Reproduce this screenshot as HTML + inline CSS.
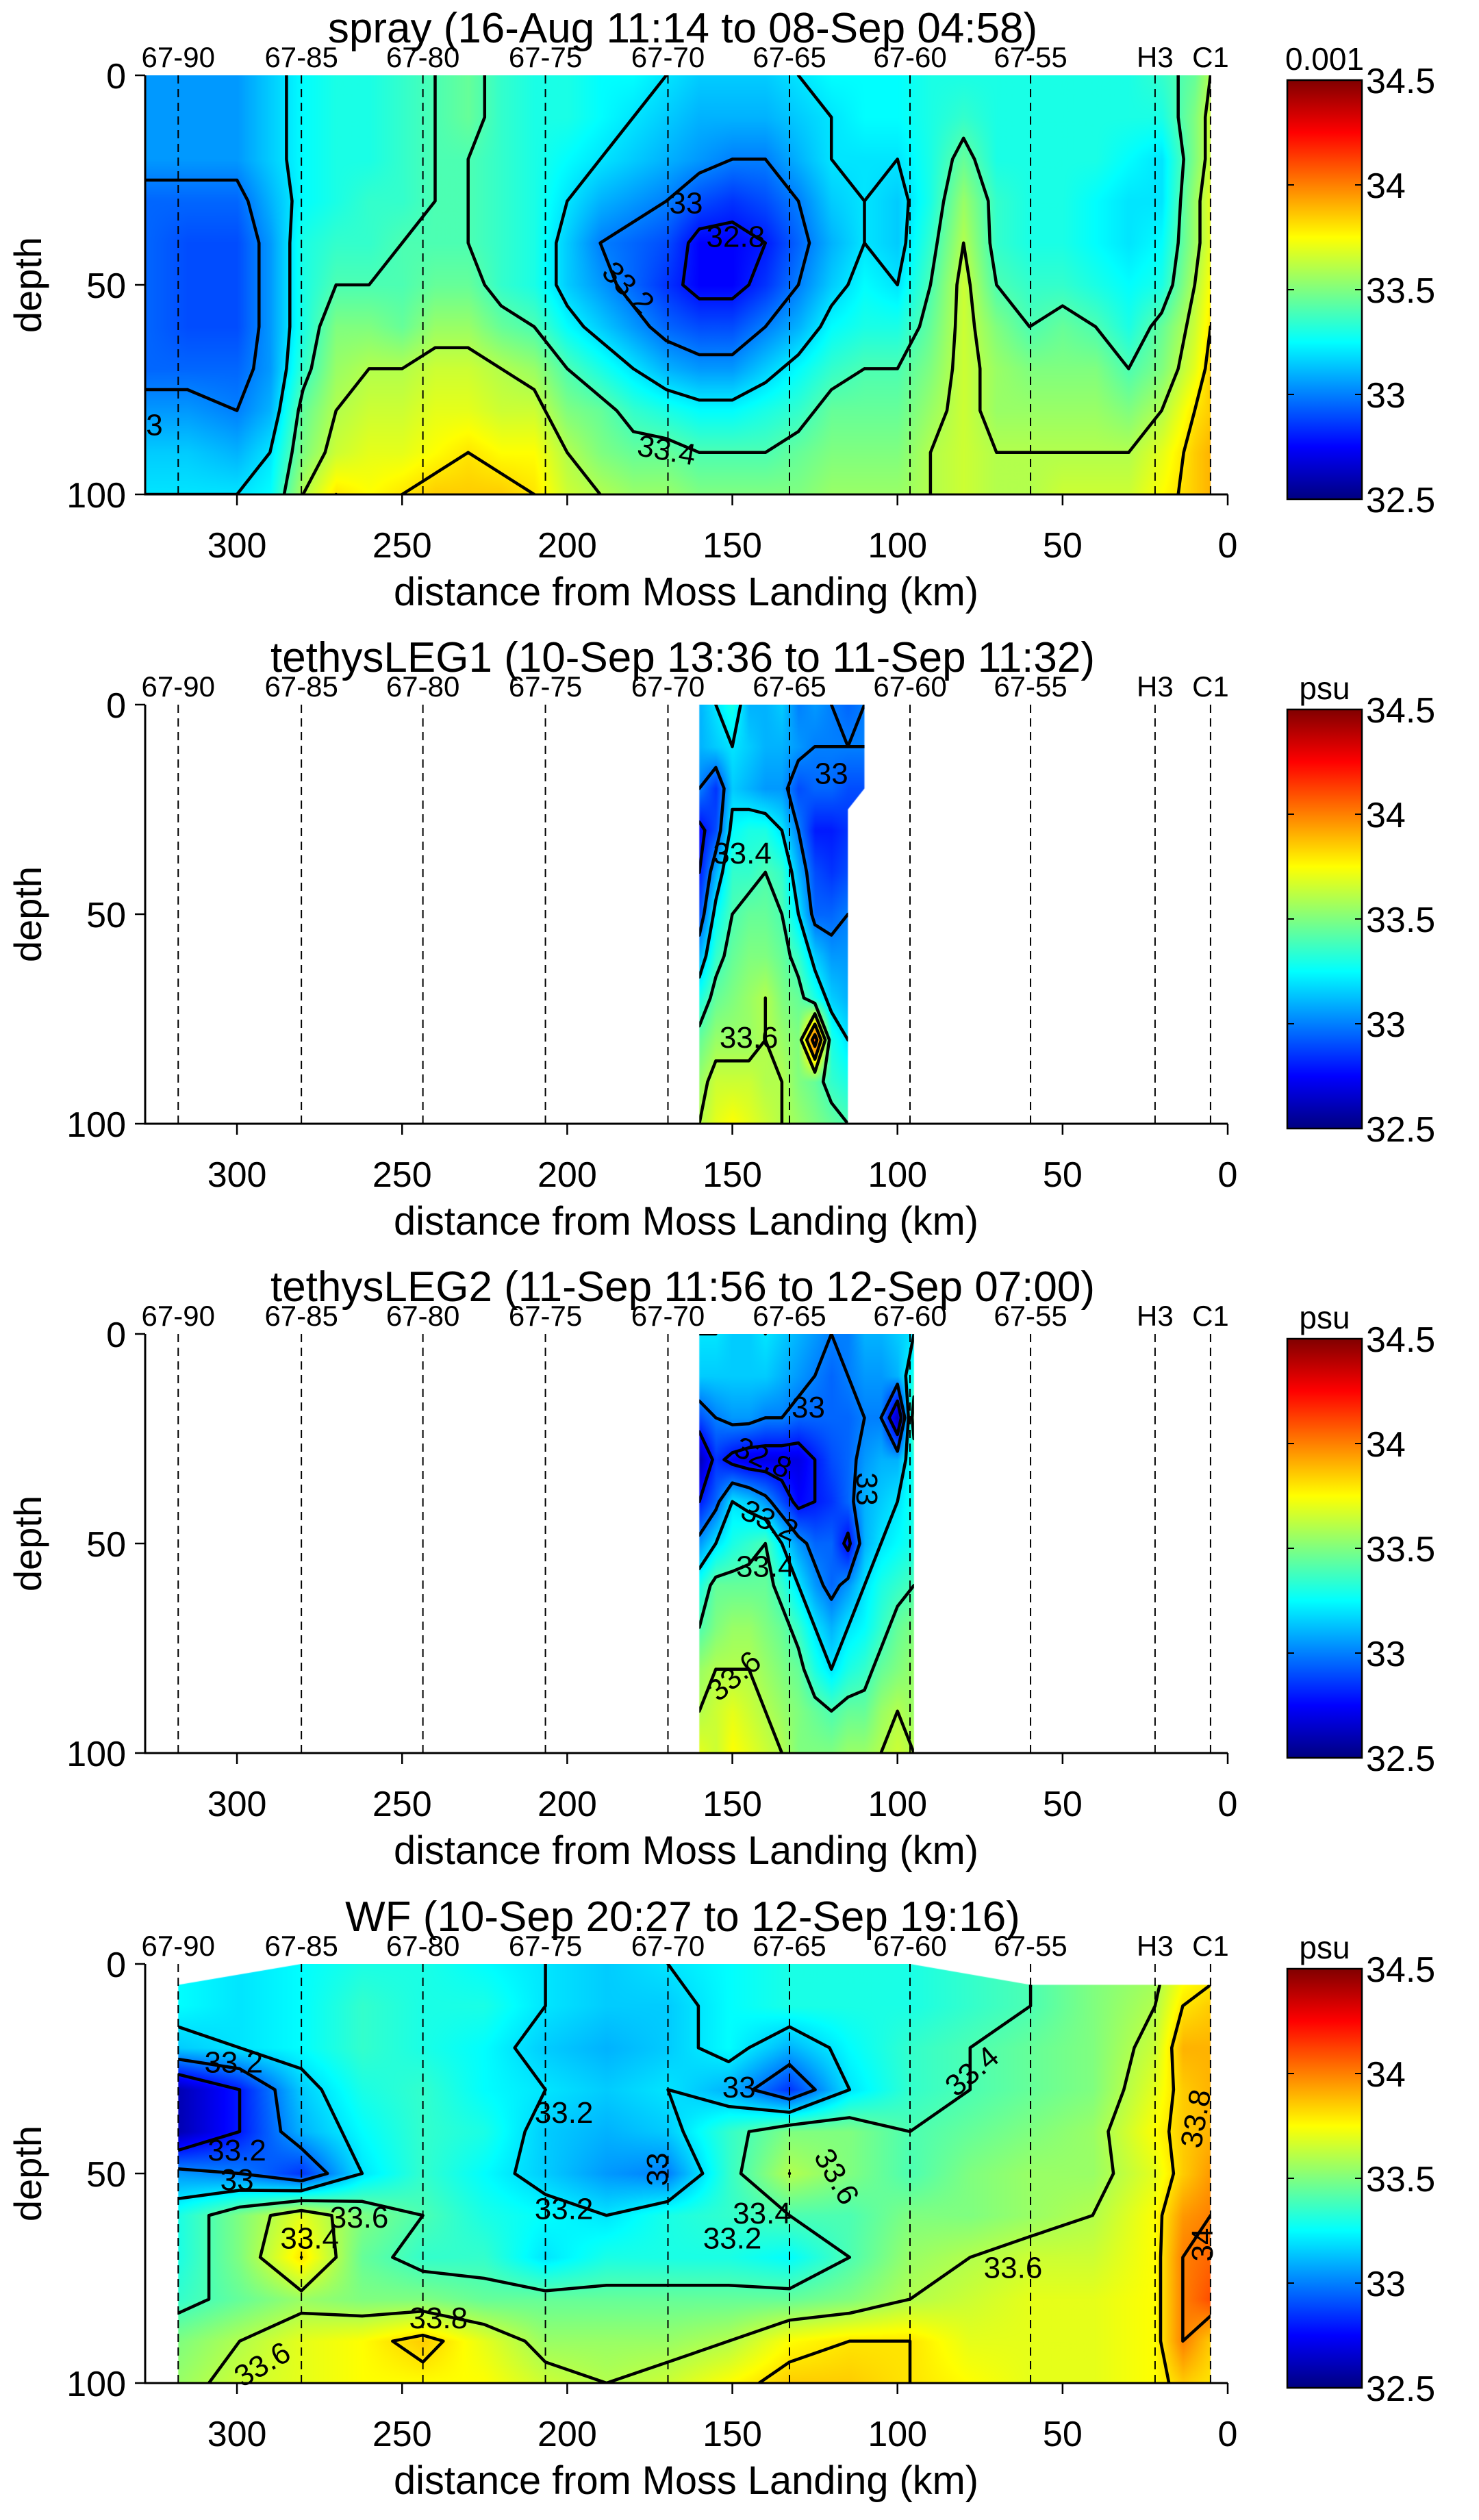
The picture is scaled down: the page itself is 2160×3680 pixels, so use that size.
<!DOCTYPE html>
<html><head><meta charset="utf-8"><style>
html,body{margin:0;padding:0;background:#fff;}
body{width:2160px;height:3680px;position:relative;overflow:hidden;font-family:"Liberation Sans",Arial,sans-serif;}
canvas{position:absolute;z-index:0;}
#chart{position:absolute;left:0;top:0;z-index:1;}
</style></head>
<body>
<svg id="chart" width="2160" height="3680" viewBox="0 0 2160 3680" xmlns="http://www.w3.org/2000/svg">
<defs>
<linearGradient id="jet" x1="0" y1="1" x2="0" y2="0">
<stop offset="0" stop-color="#000080"/><stop offset="0.125" stop-color="#0000ff"/><stop offset="0.375" stop-color="#00ffff"/><stop offset="0.625" stop-color="#ffff00"/><stop offset="0.875" stop-color="#ff0000"/><stop offset="1" stop-color="#800000"/>
</linearGradient>
</defs>
</svg>
<script>
const STATION_NAMES=['67-90','67-85','67-80','67-75','67-70','67-65','67-60','67-55','H3','C1'];
const STATION_KM=[317.8,280.5,243.7,206.6,169.5,132.7,96.2,59.7,22.0,5.2];
const X_TICKS=[300,250,200,150,100,50,0];
const Y_TICKS=[0,50,100];
const CB_TICKS=[34.5,34,33.5,33,32.5];
const DEPTHS=[0,10,20,30,40,50,60,70,80,90,100];
const LEVELS=[32.6,32.8,33.0,33.2,33.4,33.6,33.8,34.0,34.2,34.4];
const TITLES=['spray (16-Aug 11:14 to 08-Sep 04:58)','tethysLEG1 (10-Sep 13:36 to 11-Sep 11:32)','tethysLEG2 (11-Sep 11:56 to 12-Sep 07:00)','WF (10-Sep 20:27 to 12-Sep 19:16)'];
const UNITS=['0.001','psu','psu','psu'];

const P1_KM=[327.8,315,300,290,280,270,260,250,240,230,220,210,200,190,180,170,160,150,140,130,120,110,100,90,80,70,60,50,40,30,20,10,5.2];
const P1_VALUES=[
[33.05,33.05,33.05,32.95,32.95,32.95,32.95,32.95,33.05,33.15,33.2],
[33.05,33.05,33.05,32.95,32.9,32.9,32.9,32.95,33.05,33.15,33.2],
[33.05,33.05,33.05,32.95,32.9,32.9,32.9,32.95,33.0,33.1,33.2],
[33.15,33.15,33.15,33.1,33.05,33.05,33.05,33.05,33.1,33.2,33.25],
[33.25,33.25,33.25,33.25,33.3,33.3,33.3,33.35,33.45,33.5,33.6],
[33.3,33.3,33.3,33.3,33.35,33.4,33.5,33.55,33.6,33.65,33.8],
[33.3,33.3,33.3,33.35,33.35,33.4,33.5,33.6,33.65,33.7,33.75],
[33.35,33.35,33.35,33.35,33.4,33.4,33.45,33.6,33.65,33.7,33.8],
[33.4,33.4,33.4,33.4,33.4,33.45,33.55,33.65,33.7,33.75,33.85],
[33.45,33.45,33.4,33.4,33.4,33.45,33.55,33.65,33.7,33.8,33.85],
[33.35,33.35,33.35,33.35,33.35,33.35,33.45,33.6,33.65,33.75,33.85],
[33.3,33.3,33.3,33.3,33.3,33.3,33.4,33.55,33.65,33.75,33.8],
[33.3,33.3,33.25,33.2,33.15,33.15,33.25,33.4,33.5,33.6,33.65],
[33.25,33.25,33.2,33.1,33.0,33.05,33.15,33.3,33.45,33.5,33.6],
[33.25,33.2,33.15,33.05,32.95,32.95,33.05,33.2,33.35,33.45,33.55],
[33.2,33.15,33.1,33.0,32.9,32.85,32.95,33.1,33.3,33.45,33.55],
[33.15,33.1,33.05,32.9,32.75,32.75,32.9,33.05,33.25,33.4,33.5],
[33.15,33.1,33.0,32.85,32.75,32.75,32.9,33.05,33.25,33.4,33.5],
[33.15,33.1,33.0,32.9,32.8,32.85,33.0,33.15,33.3,33.4,33.5],
[33.2,33.15,33.1,33.0,32.95,33.0,33.1,33.25,33.35,33.45,33.5],
[33.25,33.2,33.2,33.15,33.1,33.15,33.25,33.35,33.45,33.5,33.55],
[33.25,33.25,33.2,33.2,33.2,33.25,33.3,33.4,33.45,33.5,33.55],
[33.25,33.25,33.2,33.15,33.15,33.2,33.3,33.4,33.45,33.5,33.55],
[33.3,33.3,33.3,33.3,33.35,33.4,33.45,33.5,33.55,33.6,33.6],
[33.3,33.35,33.45,33.55,33.6,33.65,33.65,33.65,33.65,33.65,33.65],
[33.3,33.3,33.3,33.35,33.35,33.4,33.5,33.55,33.55,33.6,33.6],
[33.3,33.3,33.3,33.3,33.3,33.35,33.4,33.5,33.55,33.6,33.6],
[33.3,33.3,33.3,33.3,33.3,33.35,33.45,33.5,33.55,33.6,33.65],
[33.3,33.3,33.3,33.25,33.25,33.3,33.4,33.5,33.55,33.6,33.65],
[33.3,33.3,33.25,33.2,33.2,33.25,33.3,33.4,33.5,33.6,33.65],
[33.35,33.3,33.2,33.2,33.25,33.3,33.45,33.5,33.6,33.7,33.75],
[33.45,33.5,33.5,33.55,33.55,33.6,33.65,33.7,33.8,33.85,33.85],
[33.6,33.65,33.65,33.7,33.7,33.75,33.8,33.85,33.85,33.9,33.9]];
const P1_BOUNDARY=[[327.8,0],[5.2,0],[5.2,100],[327.8,100]];

const P2_KM=[160,155,150,145,140,135,130,125,120,115,110];
const P2_VALUES=[
[33.1,33.1,33.0,32.75,32.8,32.9,33.1,33.3,33.45,33.55,33.6],
[33.2,33.15,32.85,32.9,33.1,33.25,33.35,33.45,33.55,33.65,33.7],
[33.3,33.2,33.15,33.25,33.35,33.4,33.45,33.5,33.55,33.65,33.75],
[33.1,33.15,33.1,33.3,33.35,33.45,33.5,33.55,33.55,33.65,33.7],
[33.1,33.1,33.05,33.3,33.4,33.45,33.5,33.6,33.6,33.6,33.65],
[33.15,33.1,33.05,33.2,33.35,33.4,33.45,33.5,33.55,33.6,33.6],
[33.0,33.05,32.9,33.0,33.1,33.2,33.35,33.45,33.5,33.5,33.55],
[33.05,33.0,32.95,32.8,32.9,32.95,33.15,33.3,34.1,33.45,33.5],
[33.0,33.0,32.95,32.8,32.85,32.95,33.05,33.15,33.3,33.35,33.45],
[32.95,33.0,32.9,32.85,32.9,33.0,33.05,33.1,33.2,33.3,33.4],
[33.0,33.0,32.9,32.85,32.9,33.0,33.05,33.1,33.2,33.3,33.4]];
const P2_BOUNDARY=[[160,0],[110,0],[110,20],[115,25],[115,100],[160,100]];

const P3_KM=[160,155,150,145,140,135,130,125,120,115,110,105,100,95];
const P3_VALUES=[
[33.2,33.15,32.9,32.6,32.8,33.05,33.3,33.4,33.55,33.6,33.7],
[33.2,33.15,33.0,32.85,32.95,33.2,33.45,33.5,33.6,33.65,33.65],
[33.15,33.15,33.05,32.75,33.2,33.3,33.45,33.55,33.6,33.7,33.75],
[33.15,33.15,33.05,32.7,33.15,33.35,33.45,33.55,33.6,33.65,33.7],
[33.2,33.15,33.0,32.7,33.05,33.4,33.45,33.5,33.55,33.6,33.65],
[33.15,33.1,33.0,32.7,32.9,33.2,33.35,33.45,33.5,33.55,33.6],
[33.1,33.05,32.95,32.7,32.75,33.05,33.2,33.35,33.45,33.5,33.5],
[33.05,33.0,32.95,32.8,32.8,32.95,33.05,33.2,33.3,33.45,33.5],
[33.0,32.95,32.95,32.9,32.85,32.95,32.95,33.1,33.2,33.4,33.5],
[33.0,33.0,32.95,32.95,32.95,32.75,33.05,33.2,33.3,33.45,33.55],
[33.1,33.05,33.0,33.05,33.1,33.1,33.2,33.25,33.35,33.45,33.55],
[33.1,33.05,33.0,33.1,33.15,33.2,33.3,33.35,33.45,33.55,33.6],
[33.15,33.1,32.6,33.1,33.2,33.25,33.35,33.45,33.5,33.6,33.65],
[33.2,33.3,33.5,33.3,33.3,33.3,33.4,33.5,33.55,33.55,33.6]];
const P3_BOUNDARY=[[160,0],[95,0],[95,100],[160,100]];

const P4_KM=[317.8,299.2,280.5,262.1,243.7,225.2,206.6,188.1,169.5,151.1,132.7,114.5,96.2,78.0,59.7,40.9,22.0,13.6,5.2];
const P4_ROWS=[
[33.25,33.2,33.25,33.3,33.3,33.25,33.2,33.15,33.2,33.25,33.3,33.3,33.3,33.35,33.4,33.5,33.55,33.7,33.75],
[33.25,33.2,33.25,33.35,33.3,33.3,33.2,33.15,33.15,33.25,33.3,33.3,33.3,33.35,33.4,33.5,33.6,33.8,33.85],
[33.15,33.2,33.25,33.35,33.3,33.25,33.15,33.1,33.15,33.25,33.1,33.25,33.35,33.4,33.45,33.5,33.65,33.9,33.9],
[32.6,32.8,33.15,33.3,33.35,33.25,33.2,33.15,33.2,33.1,32.85,33.2,33.35,33.4,33.45,33.5,33.7,33.85,33.9],
[32.6,32.8,33.1,33.25,33.35,33.3,33.15,33.1,33.15,33.35,33.5,33.5,33.4,33.45,33.5,33.55,33.75,33.85,33.9],
[33.05,33.0,32.85,33.2,33.35,33.25,33.15,33.05,33.0,33.35,33.6,33.5,33.4,33.5,33.55,33.55,33.7,33.85,33.95],
[33.3,33.5,33.7,33.5,33.4,33.3,33.25,33.2,33.3,33.35,33.4,33.4,33.5,33.5,33.55,33.6,33.75,33.95,34.0],
[33.3,33.5,33.8,33.45,33.35,33.35,33.2,33.3,33.3,33.3,33.25,33.4,33.55,33.6,33.65,33.65,33.75,34.0,34.05],
[33.35,33.45,33.55,33.5,33.5,33.45,33.45,33.45,33.45,33.45,33.45,33.5,33.6,33.65,33.7,33.7,33.75,34.0,34.1],
[33.5,33.6,33.7,33.75,33.85,33.7,33.55,33.55,33.55,33.6,33.75,33.8,33.8,33.7,33.7,33.7,33.75,34.0,33.85],
[33.55,33.65,33.7,33.75,33.75,33.75,33.65,33.6,33.65,33.75,33.85,33.85,33.8,33.75,33.7,33.7,33.75,33.85,33.8]];
const P4_VALUES=P4_KM.map((k,i)=>P4_ROWS.map(r=>r[i]));
const P4_BOUNDARY=[[317.8,5],[280.5,0],[96.2,0],[59.7,5],[5.2,5],[5.2,100],[317.8,100]];

const P1_LABELS=[['33',164,31,0],['32.8',149,39,0],['33.2',182,51,45],['33.4',170,90,10],['3',325,84,0]];
const P2_LABELS=[['33',120,17,0],['33.4',147,36,0],['33.6',145,80,0]];
const P3_LABELS=[['33',127,18,0],['32.8',141,30,25],['33.2',139,45,25],['33.4',140,56,0],['33.6',149,82,-40],['33',110,37,90]];
const P4_LABELS=[['33.2',301,24,0],['33.2',300,45,0],['33',300,52,0],['33.6',263,61,0],['33.4',278,66,0],['33.2',201,36,0],['33',172,49,-90],['33',148,30,0],['33.4',77,26,-40],['33.6',119,51,60],['33.2',201,59,0],['33.4',141,60,0],['33.2',150,66,0],['33.6',65,73,0],['33.8',239,85,0],['33.6',292,96,-30],['33.8',9,37,-80],['34',7,67,-90]];

const PANEL_TOPS=[110,1029,1948,2868];
const PANELS=[
 {km:P1_KM,vals:P1_VALUES,bnd:P1_BOUNDARY,labels:P1_LABELS},
 {km:P2_KM,vals:P2_VALUES,bnd:P2_BOUNDARY,labels:P2_LABELS},
 {km:P3_KM,vals:P3_VALUES,bnd:P3_BOUNDARY,labels:P3_LABELS},
 {km:P4_KM,vals:P4_VALUES,bnd:P4_BOUNDARY,labels:P4_LABELS}];

const AX_L=212, AX_R=1793, PH=612, KMPX=4.823;
const CB_X=1880, CB_W=109, CMIN=32.5, CMAX=34.5;
const NS='http://www.w3.org/2000/svg';
const svg=document.getElementById('chart');
function xPix(km){return AX_R-km*KMPX;}
function yPix(T,d){return T+d*PH/100;}
function cbY(T,v){return T+7+(CMAX-v)/(CMAX-CMIN)*PH;}
function mk(tag,parent,a){const e=document.createElementNS(NS,tag);for(const k in a)e.setAttribute(k,a[k]);parent.appendChild(e);return e;}
function jet(v){let t=(v-CMIN)/(CMAX-CMIN);t=Math.max(0,Math.min(1,t));
 const c=x=>Math.max(0,Math.min(1,x));
 return [c(1.5-Math.abs(4*t-3))*255,c(1.5-Math.abs(4*t-2))*255,c(1.5-Math.abs(4*t-1))*255];}
function field(p,km,d){
 const K=p.km;let i=0;
 if(km>=K[0])i=0;else if(km<=K[K.length-1])i=K.length-2;else{while(i<K.length-2&&km<K[i+1])i++;}
 let fx=(K[i]-km)/(K[i]-K[i+1]);fx=Math.max(0,Math.min(1,fx));
 let j=Math.min(9,Math.max(0,Math.floor(d/10)));let fy=(d-DEPTHS[j])/10;fy=Math.max(0,Math.min(1,fy));
 const a=p.vals[i][j],b=p.vals[i+1][j],c=p.vals[i][j+1],e=p.vals[i+1][j+1];
 return a*(1-fx)*(1-fy)+b*fx*(1-fy)+c*(1-fx)*fy+e*fx*fy;}

PANELS.forEach((p,pi)=>{
 const T=PANEL_TOPS[pi];
 const g=mk('g',svg,{});
 
 
 const cv=document.createElement('canvas');
 cv.width=AX_R-AX_L;cv.height=PH;cv.style.left=AX_L+'px';cv.style.top=T+'px';
 
 
 document.body.appendChild(cv);
 const off=document.createElement('canvas');off.width=cv.width;off.height=cv.height;
 const octx=off.getContext('2d');const img=octx.createImageData(cv.width,cv.height);
 for(let py=0;py<PH;py++){const d=py*100/PH;
  for(let px=0;px<cv.width;px++){const km=(AX_R-(AX_L+px))/KMPX;const v=field(p,km,d);const c=jet(v);
   const o=(py*cv.width+px)*4;img.data[o]=c[0];img.data[o+1]=c[1];img.data[o+2]=c[2];img.data[o+3]=255;}}
 octx.putImageData(img,0,0);
 const ctx=cv.getContext('2d');ctx.beginPath();
 p.bnd.forEach((q,k)=>{const X=xPix(q[0])-AX_L,Y=q[1]*PH/100;if(k)ctx.lineTo(X,Y);else ctx.moveTo(X,Y);});
 ctx.closePath();ctx.clip();ctx.drawImage(off,0,0);
 const cp=mk('clipPath',svg,{id:'clip'+pi});
 mk('polygon',cp,{points:p.bnd.map(q=>xPix(q[0])+','+yPix(T,q[1])).join(' ')});
 const cg=mk('g',g,{'clip-path':'url(#clip'+pi+')'});
 
 
 LEVELS.forEach(L=>{let dstr='';
  for(let i=0;i<p.km.length-1;i++)for(let j=0;j<DEPTHS.length-1;j++){
   const P=[[p.km[i],DEPTHS[j],p.vals[i][j]],[p.km[i+1],DEPTHS[j],p.vals[i+1][j]],[p.km[i+1],DEPTHS[j+1],p.vals[i+1][j+1]],[p.km[i],DEPTHS[j+1],p.vals[i][j+1]]];
   const pts=[];
   for(let e=0;e<4;e++){const A=P[e],B=P[(e+1)%4];
    if((A[2]<L)!==(B[2]<L)){const t=(L-A[2])/(B[2]-A[2]);pts.push([A[0]+t*(B[0]-A[0]),A[1]+t*(B[1]-A[1])]);}}
   for(let s=0;s+1<pts.length;s+=2){
    dstr+='M'+xPix(pts[s][0]).toFixed(1)+' '+yPix(T,pts[s][1]).toFixed(1)+'L'+xPix(pts[s+1][0]).toFixed(1)+' '+yPix(T,pts[s+1][1]).toFixed(1);}
  }
  if(dstr){const path=mk('path',cg,{d:dstr,stroke:'#000','stroke-width':4.5,fill:'none','stroke-linecap':'round'});
   
   }
 });
 p.labels.forEach(l=>{const X=xPix(l[1]),Y=yPix(T,l[2]);
  const t=mk('text',g,{x:X,y:Y,'font-size':44,'text-anchor':'middle','dominant-baseline':'middle',fill:'#000',transform:'rotate('+l[3]+' '+X+' '+Y+')'});
  t.textContent=l[0];
  
  });
 STATION_KM.forEach((s,k)=>{const X=xPix(s);
  const ln=mk('line',g,{x1:X,y1:T,x2:X,y2:T+PH,stroke:'#000','stroke-width':2,'stroke-dasharray':'12 8'});
  
  
  const t=mk('text',g,{x:X,y:T-12,'font-size':42,'text-anchor':'middle',fill:'#000'});
  t.textContent=STATION_NAMES[k];
  
  });
 const ax=mk('path',g,{d:'M'+AX_L+' '+T+'L'+AX_L+' '+(T+PH)+'L'+AX_R+' '+(T+PH),stroke:'#000','stroke-width':3,fill:'none'});
 
 
 X_TICKS.forEach(v=>{const X=xPix(v);
  const tk=mk('line',g,{x1:X,y1:T+PH,x2:X,y2:T+PH+16,stroke:'#000','stroke-width':2.5});
  
  
  const t=mk('text',g,{x:X,y:T+PH+92,'font-size':52,'text-anchor':'middle',fill:'#000'});
  t.textContent=v;
  
  });
 Y_TICKS.forEach(v=>{const Y=yPix(T,v);
  const tk=mk('line',g,{x1:AX_L-15,y1:Y,x2:AX_L,y2:Y,stroke:'#000','stroke-width':2.5});
  
  
  const t=mk('text',g,{x:184,y:Y+19,'font-size':52,'text-anchor':'end',fill:'#000'});
  t.textContent=v;
  
  });
 const yl=mk('text',g,{x:60,y:T+PH/2,'font-size':56,'text-anchor':'middle',fill:'#000',transform:'rotate(-90 60 '+(T+PH/2)+')'});
 yl.textContent='depth';
 
 
 const xl=mk('text',g,{x:1002,y:T+PH+162,'font-size':58,'text-anchor':'middle',fill:'#000',textLength:854,lengthAdjust:'spacingAndGlyphs'});
 xl.textContent='distance from Moss Landing (km)';
 
 
 const ti=mk('text',g,{x:997,y:T-48,'font-size':62,'text-anchor':'middle',fill:'#000'});
 ti.textContent=TITLES[pi];
 
 
 const cb=mk('rect',g,{x:CB_X,y:T+7,width:CB_W,height:PH,fill:'url(#jet)',stroke:'#000','stroke-width':2.5});
 
 
 CB_TICKS.forEach(v=>{const Y=cbY(T,v);
  const tk=mk('path',g,{d:'M'+CB_X+' '+Y+'h10M'+(CB_X+CB_W)+' '+Y+'h-10',stroke:'#000','stroke-width':2});
  
  
  const t=mk('text',g,{x:CB_X+CB_W+6,y:Y+19,'font-size':52,fill:'#000'});
  t.textContent=v;
  
  });
 const un=mk('text',g,{x:CB_X+CB_W/2,y:T-8,'font-size':46,'text-anchor':'middle',fill:'#000'});
 un.textContent=UNITS[pi];
 
 
});
</script>
</body></html>
